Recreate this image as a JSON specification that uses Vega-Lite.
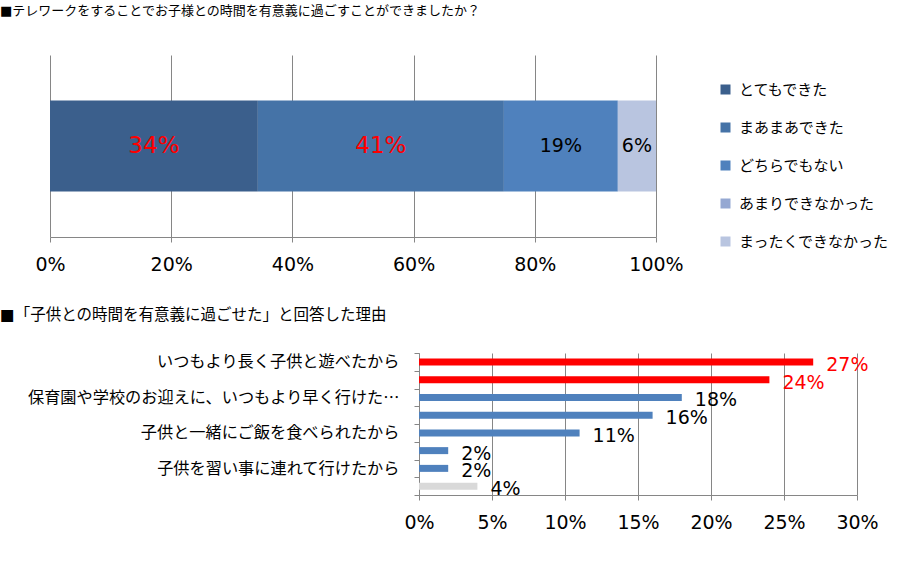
{
  "$schema": "https://vega.github.io/schema/vega-lite/v6.json",
  "padding": {"left": 0, "top": 5, "right": 0, "bottom": 0},
  "background": "white",
  "config": {
    "font": "DejaVu Sans, Noto Sans CJK JP",
    "view": {"stroke": null},
    "axis": {"domainColor": "#868686", "tickColor": "#868686", "gridColor": "#868686", "labelColor": "#000000", "title": null}
  },
  "spacing": 33,
  "vconcat": [
    {
      "width": 606,
      "height": 182,
      "title": {"text": "■テレワークをすることでお子様との時間を有意義に過ごすことができましたか？", "anchor": "start", "frame": "group", "dx": -50, "fontSize": 13, "fontWeight": "normal", "offset": 37, "color": "#000000"},
      "data": {"values": [
        {"q": "Q1", "answer": "とてもできた", "pct": 0.343, "order": 1, "hl": "yes"},
        {"q": "Q1", "answer": "まあまあできた", "pct": 0.406, "order": 2, "hl": "yes"},
        {"q": "Q1", "answer": "どちらでもない", "pct": 0.188, "order": 3, "hl": "no"},
        {"q": "Q1", "answer": "あまりできなかった", "pct": 0, "order": 4, "hl": "no"},
        {"q": "Q1", "answer": "まったくできなかった", "pct": 0.063, "order": 5, "hl": "no"}
      ]},
      "layer": [
        {
          "mark": {"type": "bar", "size": 91},
          "encoding": {
            "x": {"field": "pct", "type": "quantitative", "stack": "zero", "scale": {"domain": [0, 1], "nice": false},
              "axis": {"values": [0, 0.2, 0.4, 0.6, 0.8, 1], "format": ".0%", "grid": true, "gridWidth": 1, "tickSize": 5, "labelFontSize": 19, "labelPadding": 13, "labelFlush": false, "domain": true}},
            "y": {"field": "q", "type": "nominal", "axis": null, "scale": {"paddingInner": 0, "paddingOuter": 0}},
            "color": {"field": "answer", "type": "nominal",
              "scale": {"domain": ["とてもできた", "まあまあできた", "どちらでもない", "あまりできなかった", "まったくできなかった"], "range": ["#3B5F8C", "#4573A7", "#4F81BD", "#95A8D2", "#B9C5E0"]},
              "legend": {"orient": "none", "legendX": 668, "legendY": 27, "title": null, "labelFontSize": 15, "labelFont": "Noto Sans CJK JP", "labelColor": "#000000", "labelLimit": 300, "symbolType": "square", "symbolSize": 100, "symbolStrokeWidth": 0, "rowPadding": 22, "labelOffset": 6}},
            "order": {"field": "order", "type": "quantitative"}
          }
        },
        {
          "transform": [{"filter": "datum.pct > 0"}],
          "mark": {"type": "text", "baseline": "middle", "align": "center"},
          "encoding": {
            "x": {"field": "pct", "type": "quantitative", "stack": "zero", "bandPosition": 0.5},
            "y": {"field": "q", "type": "nominal"},
            "order": {"field": "order", "type": "quantitative"},
            "text": {"field": "pct", "type": "quantitative", "format": ".0%"},
            "color": {"condition": {"test": "datum.hl == 'yes'", "value": "#FF0000"}, "value": "#000000"},
            "size": {"condition": {"test": "datum.hl == 'yes'", "value": 23}, "value": 19}
          }
        }
      ]
    },
    {
      "width": 807,
      "height": 142,
      "title": {"text": "■「子供との時間を有意義に過ごせた」と回答した理由", "anchor": "start", "frame": "group", "dx": -50, "fontSize": 15.5, "fontWeight": "normal", "offset": 22, "color": "#000000"},
      "data": {"values": [
        {"item": "いつもより長く子供と遊べたから", "pct": 0.27, "grp": "top"},
        {"item": "子供とゆっくり話ができたから", "pct": 0.24, "grp": "top"},
        {"item": "保育園や学校のお迎えに、いつもより早く行けた…", "pct": 0.18, "grp": "mid"},
        {"item": "子供の勉強を見てあげられたから", "pct": 0.16, "grp": "mid"},
        {"item": "子供と一緒にご飯を食べられたから", "pct": 0.11, "grp": "mid"},
        {"item": "子供の習い事の送り迎えができたから", "pct": 0.02, "grp": "mid"},
        {"item": "子供を習い事に連れて行けたから", "pct": 0.02, "grp": "mid"},
        {"item": "その他", "pct": 0.04, "grp": "other"}
      ]},
      "encoding": {
        "x": {"field": "pct", "type": "quantitative", "scale": {"domain": [0, 0.3], "nice": false, "range": [369, 807]},
          "axis": {"values": [0, 0.05, 0.1, 0.15, 0.2, 0.25, 0.3], "format": ".0%", "grid": true, "gridWidth": 1, "tickSize": 5, "labelFontSize": 19, "labelPadding": 13, "labelFlush": false}},
        "y": {"field": "item", "type": "nominal", "sort": null, "scale": {"paddingInner": 0, "paddingOuter": 0},
          "axis": {"offset": -369, "tickBand": "extent", "tickSize": 5, "labelFontSize": 16.2, "labelFont": "Noto Sans CJK JP", "labelPadding": 15, "labelLimit": 500, "labelExpr": "round(datum.index * 7) % 2 == 0 ? datum.label : ''"}}
      },
      "layer": [
        {
          "mark": {"type": "bar", "size": 7},
          "encoding": {
            "color": {"condition": [{"test": "datum.grp == 'top'", "value": "#FF0000"}, {"test": "datum.grp == 'other'", "value": "#D9D9D9"}], "value": "#4F81BD"}
          }
        },
        {
          "mark": {"type": "text", "align": "left", "baseline": "middle", "dx": 13, "dy": 3, "fontSize": 19},
          "encoding": {
            "text": {"field": "pct", "type": "quantitative", "format": ".0%"},
            "color": {"condition": {"test": "datum.grp == 'top'", "value": "#FF0000"}, "value": "#000000"}
          }
        }
      ]
    }
  ]
}
